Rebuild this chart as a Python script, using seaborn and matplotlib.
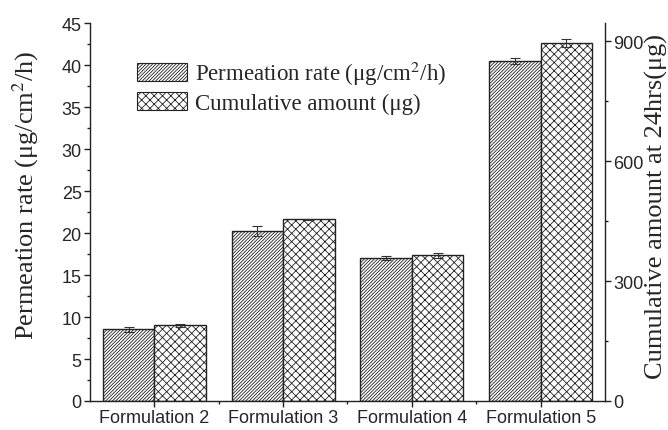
import pandas as pd
import seaborn as sns
import matplotlib.pyplot as plt
from matplotlib.ticker import MultipleLocator, FixedLocator
from matplotlib.patches import Patch

# Data
formulations = ['Formulation 2', 'Formulation 3', 'Formulation 4', 'Formulation 5']
perm_rate = [8.55, 20.2, 17.0, 40.5]          # ug/cm2/h (left axis)
perm_err = [0.3, 0.6, 0.25, 0.4]
cumulative = [189, 454, 364, 896]             # ug at 24 hrs (right axis)
cum_err = [3, 2, 7, 10]

perm_label = 'Permeation rate (\u03bcg/cm$^2$/h)'
cum_label = 'Cumulative amount (\u03bcg)'

# right axis spans 0-945 while left spans 0-45
ratio = 945 / 45

df = pd.DataFrame({
    'Formulation': formulations * 2,
    'value': perm_rate + [c / ratio for c in cumulative],
    'err': perm_err + [e / ratio for e in cum_err],
    'series': [perm_label] * 4 + [cum_label] * 4,
})

sns.set_style('ticks')
plt.rcParams['hatch.linewidth'] = 0.6
plt.rcParams['hatch.color'] = '#333333'
plt.rcParams['mathtext.fontset'] = 'stix'
plt.rcParams['font.family'] = ['Liberation Sans', 'DejaVu Sans']

fig = plt.figure(figsize=(6.68, 4.31), dpi=100)
ax = fig.add_axes([0.1347, 0.0673, 0.771, 0.8767])

sns.barplot(data=df, x='Formulation', y='value', hue='series',
            hue_order=[perm_label, cum_label], order=formulations,
            palette=['white', 'white'], edgecolor='#222222', linewidth=1.0,
            width=0.8, errorbar=None, legend=False, ax=ax)

hatches = ['/' * 10, 'xxxx']
for cont, hatch, name in zip(ax.containers, hatches, [perm_label, cum_label]):
    grp = df[df.series == name]
    xs = []
    for patch in cont:
        patch.set_hatch(hatch)
        xs.append(patch.get_x() + patch.get_width() / 2)
    ax.errorbar(xs, grp['value'].values, yerr=grp['err'].values, fmt='none',
                ecolor='#333333', elinewidth=0.8, capsize=3.5, capthick=0.8)

ax.set_xlim(-0.5, 3.5)
ax.set_ylim(0, 45)
ax.yaxis.set_major_locator(MultipleLocator(5))
ax.yaxis.set_minor_locator(MultipleLocator(2.5))
ax.xaxis.set_minor_locator(FixedLocator([0.5, 1.5, 2.5]))
ax.tick_params(axis='both', which='major', direction='out', length=4,
               width=1, labelsize=13, color='#222222', pad=2)
ax.tick_params(axis='both', which='minor', direction='out', length=2.5,
               width=1, color='#222222')
ax.set_xlabel('')
ax.set_ylabel('')

for side in ['left', 'bottom']:
    ax.spines[side].set_linewidth(1.0)
    ax.spines[side].set_color('#222222')
ax.spines['top'].set_visible(False)
ax.spines['right'].set_visible(False)

# right axis for the cumulative amount
ax2 = ax.twinx()
ax2.set_ylim(0, 45 * ratio)
ax2.yaxis.set_major_locator(MultipleLocator(300))
ax2.yaxis.set_minor_locator(MultipleLocator(150))
ax2.tick_params(which='major', direction='out', length=4, width=1, labelsize=13,
                color='#222222', pad=2)
ax2.tick_params(which='minor', direction='out', length=2.5, width=1, color='#222222')
for side in ['left', 'bottom', 'top']:
    ax2.spines[side].set_visible(False)
ax2.spines['right'].set_linewidth(1.0)
ax2.spines['right'].set_color('#222222')

# axis titles
fig.text(0.039, 0.548, perm_label, rotation=90, ha='center', va='center',
         family='Liberation Serif', fontsize=19)
fig.text(0.982, 0.522, 'Cumulative amount at 24hrs(\u03bcg)', rotation=90,
         ha='center', va='center', family='Liberation Serif', fontsize=19)

# legend with hatched handles
handles = [Patch(facecolor='white', edgecolor='#222222', hatch=h, linewidth=0.8)
           for h in hatches]
ax.legend(handles, [perm_label, cum_label], loc='upper left',
          bbox_to_anchor=(0.091, 0.905), frameon=False,
          prop={'family': 'Liberation Serif', 'size': 16.5},
          handlelength=2.2, handleheight=0.85, handletextpad=0.35,
          labelspacing=0.2, borderaxespad=0, borderpad=0)

fig.savefig('out.png', dpi=100)
